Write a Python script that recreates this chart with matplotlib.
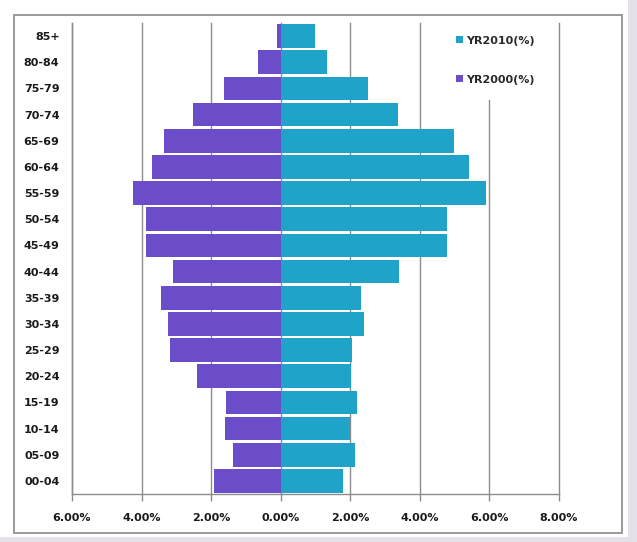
import numpy as np
import matplotlib
matplotlib.use("Agg")
import matplotlib.pyplot as plt
from matplotlib.patches import Rectangle
from matplotlib.ticker import FixedLocator, FuncFormatter

# age groups, top to bottom
age_groups = ["85+", "80-84", "75-79", "70-74", "65-69", "60-64", "55-59",
              "50-54", "45-49", "40-44", "35-39", "30-34", "25-29", "20-24",
              "15-19", "10-14", "05-09", "00-04"]

# share of population (%) per age group
yr2010 = [0.98, 1.32, 2.50, 3.37, 4.98, 5.41, 5.89, 4.77, 4.77, 3.40,
          2.30, 2.39, 2.04, 2.03, 2.19, 2.00, 2.14, 1.78]
yr2000 = [0.10, 0.66, 1.64, 2.53, 3.36, 3.70, 4.26, 3.86, 3.86, 3.10,
          3.43, 3.24, 3.19, 2.42, 1.56, 1.61, 1.38, 1.92]

x_ticks = [-6, -4, -2, 0, 2, 4, 6, 8]

teal = "#1fa3c9"
purple = "#6b4cc9"
grid_gray = "#8c8c8c"

fig = plt.figure(figsize=(6.37, 5.42), dpi=100)
fig.patch.set_facecolor("white")

# page edges
fig.add_artist(Rectangle((628 / 637, 0), 9 / 637, 1, transform=fig.transFigure,
                         facecolor="#e4e1e8", edgecolor="none", zorder=0))
fig.add_artist(Rectangle((0, 0), 1, 5 / 542, transform=fig.transFigure,
                         facecolor="#e4e1e8", edgecolor="none", zorder=0))
# chart frame
fig.add_artist(Rectangle((14 / 637, 1 - 533 / 542), 608 / 637, 518 / 542,
                         transform=fig.transFigure, facecolor="none",
                         edgecolor="#9a9a9a", linewidth=1.4, zorder=1))

ax = fig.add_axes([72 / 637, 1 - 494 / 542, 487 / 637, 471 / 542])

y = np.arange(len(age_groups))[::-1]
# 2000 drawn to the left of zero
ax.barh(y, [-v for v in yr2000], height=0.9,
        color=purple, label="YR2000(%)", zorder=3)
ax.barh(y, yr2010, height=0.9, color=teal, label="YR2010(%)", zorder=3)

ax.set_xlim(-6, 8)
ax.set_ylim(-0.5, len(age_groups) - 0.5)

ax.xaxis.set_major_locator(FixedLocator(x_ticks))
ax.xaxis.set_major_formatter(FuncFormatter(lambda v, p: f"{abs(v):.2f}%"))
ax.set_yticks(y)
ax.set_yticklabels(age_groups)

ax.grid(axis="x", color=grid_gray, linewidth=1.0, zorder=0)
ax.set_axisbelow(True)
for gl in ax.get_xgridlines():
    gl.set_clip_on(False)

for side in ["top", "right"]:
    ax.spines[side].set_visible(False)
for side in ["left", "bottom"]:
    ax.spines[side].set_color(grid_gray)
    ax.spines[side].set_linewidth(1.0)

ax.tick_params(axis="x", length=5, width=1.0, color=grid_gray, pad=9,
               labelsize=8, labelcolor="#1a1a1a")
ax.tick_params(axis="y", length=0, pad=9, labelsize=8, labelcolor="#1a1a1a")
for lbl in ax.get_xticklabels() + ax.get_yticklabels():
    lbl.set_fontweight("bold")

handles, labels = ax.get_legend_handles_labels()
leg = ax.legend(handles[::-1], labels[::-1], loc="upper left",
                bbox_to_anchor=(0.746, 1.018), frameon=True, facecolor="white",
                edgecolor="none", framealpha=1.0, fancybox=False,
                handlelength=0.55, handleheight=0.55, handletextpad=0.3,
                labelspacing=2.6, borderpad=1.4,
                prop={"size": 8, "weight": "bold"})
for t in leg.get_texts():
    t.set_color("#2a2a2a")
leg.set_zorder(5)

fig.savefig("out.png", dpi=100)
